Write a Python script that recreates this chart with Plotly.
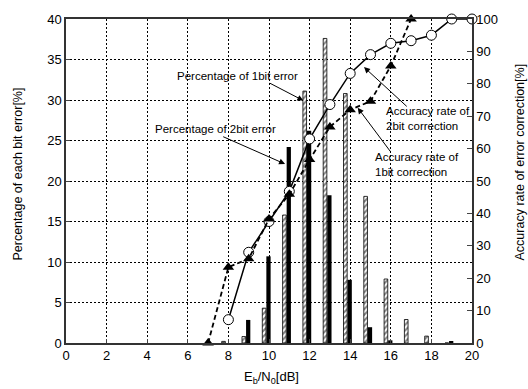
import plotly.graph_objects as go

# ---- data ----
bar_x = [8, 9, 10, 11, 12, 13, 14, 15, 16, 17, 18, 19]
pct_1bit = [0.2, 0.8, 4.3, 15.8, 31.1, 37.6, 30.8, 18.1, 7.9, 2.9, 0.85, 0.0]
pct_2bit = [0.0, 2.85, 10.7, 24.2, 26.2, 18.25, 7.8, 1.95, 0.33, 0.0, 0.0, 0.2]

acc2_x = [8, 9, 10, 11, 12, 13, 14, 15, 16, 17, 18, 19, 20]
acc2_y = [7.2, 28.0, 37.5, 46.8, 63.0, 73.6, 83.2, 89.0, 92.5, 93.3, 95.0, 100.0, 100.0]

acc1_x = [7, 8, 9, 10, 11, 12, 13, 14, 15, 16, 17]
acc1_y = [0.0, 23.4, 26.0, 38.3, 45.9, 56.6, 66.7, 72.0, 74.6, 85.5, 100.0]

x_ticks = list(range(0, 21, 2))
y_ticks = list(range(0, 41, 5))
y2_ticks = list(range(0, 101, 10))

FONT = "Liberation Sans, Arial, sans-serif"

fig = go.Figure()

fig.add_trace(go.Bar(
    x=bar_x, y=pct_1bit, offset=-0.33, width=0.18,
    marker=dict(color="white", line=dict(color="black", width=0.8),
                pattern=dict(shape="/", fgcolor="black", bgcolor="white", size=4, solidity=0.5)),
    yaxis="y", showlegend=False))
fig.add_trace(go.Bar(
    x=bar_x, y=pct_2bit, offset=-0.13, width=0.21,
    marker=dict(color="black", line=dict(color="black", width=0)),
    yaxis="y", showlegend=False))

fig.add_trace(go.Scatter(
    x=acc2_x, y=acc2_y, mode="lines+markers", yaxis="y2",
    line=dict(color="black", width=1.5),
    marker=dict(symbol="circle", size=10, color="white", line=dict(color="black", width=1)),
    cliponaxis=False, showlegend=False))
fig.add_trace(go.Scatter(
    x=acc1_x, y=acc1_y, mode="lines+markers", yaxis="y2",
    line=dict(color="black", width=1.8, dash="5px,3px"),
    marker=dict(symbol="triangle-up", size=10, color="black"),
    cliponaxis=False, showlegend=False))

grid = dict(showgrid=True, gridcolor="black", gridwidth=1, griddash="2px,2px")

fig.update_layout(
    width=528, height=389,
    margin=dict(l=66, r=56, t=14, b=46),
    plot_bgcolor="white", paper_bgcolor="white",
    font=dict(family=FONT, color="black", size=13),
    barmode="overlay",
    xaxis=dict(range=[0, 20], tickvals=x_ticks, ticks="inside", ticklen=4,
               showline=True, linecolor="#333", linewidth=1.5, mirror=True,
               zeroline=False, tickfont=dict(size=13), **grid),
    yaxis=dict(range=[0, 40], tickvals=y_ticks, ticks="inside", ticklen=4,
               showline=True, linecolor="#333", linewidth=1.5,
               zeroline=False, tickfont=dict(size=13), **grid),
    yaxis2=dict(range=[0, 100], tickvals=y2_ticks, overlaying="y", side="right",
                ticks="inside", ticklen=5, showline=True, linecolor="#333", linewidth=1.5,
                showgrid=False, zeroline=False, tickfont=dict(size=13)),
)

# axis titles
fig.add_annotation(text="Percentage of each bit error[%]", xref="paper", yref="paper",
                   x=-0.119, y=0.522, xanchor="center", yanchor="middle",
                   textangle=-90, showarrow=False, font=dict(size=12.5))
fig.add_annotation(text="Accuracy rate of error correction[%]", xref="paper", yref="paper",
                   x=1.118, y=0.56, xanchor="center", yanchor="middle",
                   textangle=-90, showarrow=False, font=dict(size=12.5))
fig.add_annotation(text="E<sub>b</sub>/N<sub>0</sub>[dB]",
                   xref="paper", yref="paper", x=0.507, y=-0.108,
                   xanchor="center", yanchor="middle",
                   showarrow=False, font=dict(size=13))

# text labels
txt = dict(showarrow=False, font=dict(size=11.5), xref="x", yref="y")
fig.add_annotation(text="Percentage of 1bit error", x=8.47, y=32.93, **txt)
fig.add_annotation(text="Percentage of 2bit error", x=7.36, y=26.48, **txt)
fig.add_annotation(text="Accuracy rate of<br>2bit correction", x=15.67, y=27.7, xanchor="left", align="left", **txt)
fig.add_annotation(text="Accuracy rate of<br>1bit correction", x=15.12, y=22.04, xanchor="left", align="left", **txt)

# arrows (tip, tail) in left-axis data coordinates
arrows = [((11.69, 29.93), (9.97, 32.17)),
          ((10.79, 22.1), (7.67, 25.55)),
          ((14.68, 34.06), (16.86, 29.04)),
          ((14.37, 29.04), (16.04, 23.44))]
for (tx, ty), (sx, sy) in arrows:
    fig.add_annotation(x=tx, y=ty, ax=sx, ay=sy, xref="x", yref="y", axref="x", ayref="y",
                       text="", showarrow=True, arrowhead=2, arrowsize=1.2, arrowwidth=1,
                       arrowcolor="black", standoff=0)

fig.write_html("out.html")
